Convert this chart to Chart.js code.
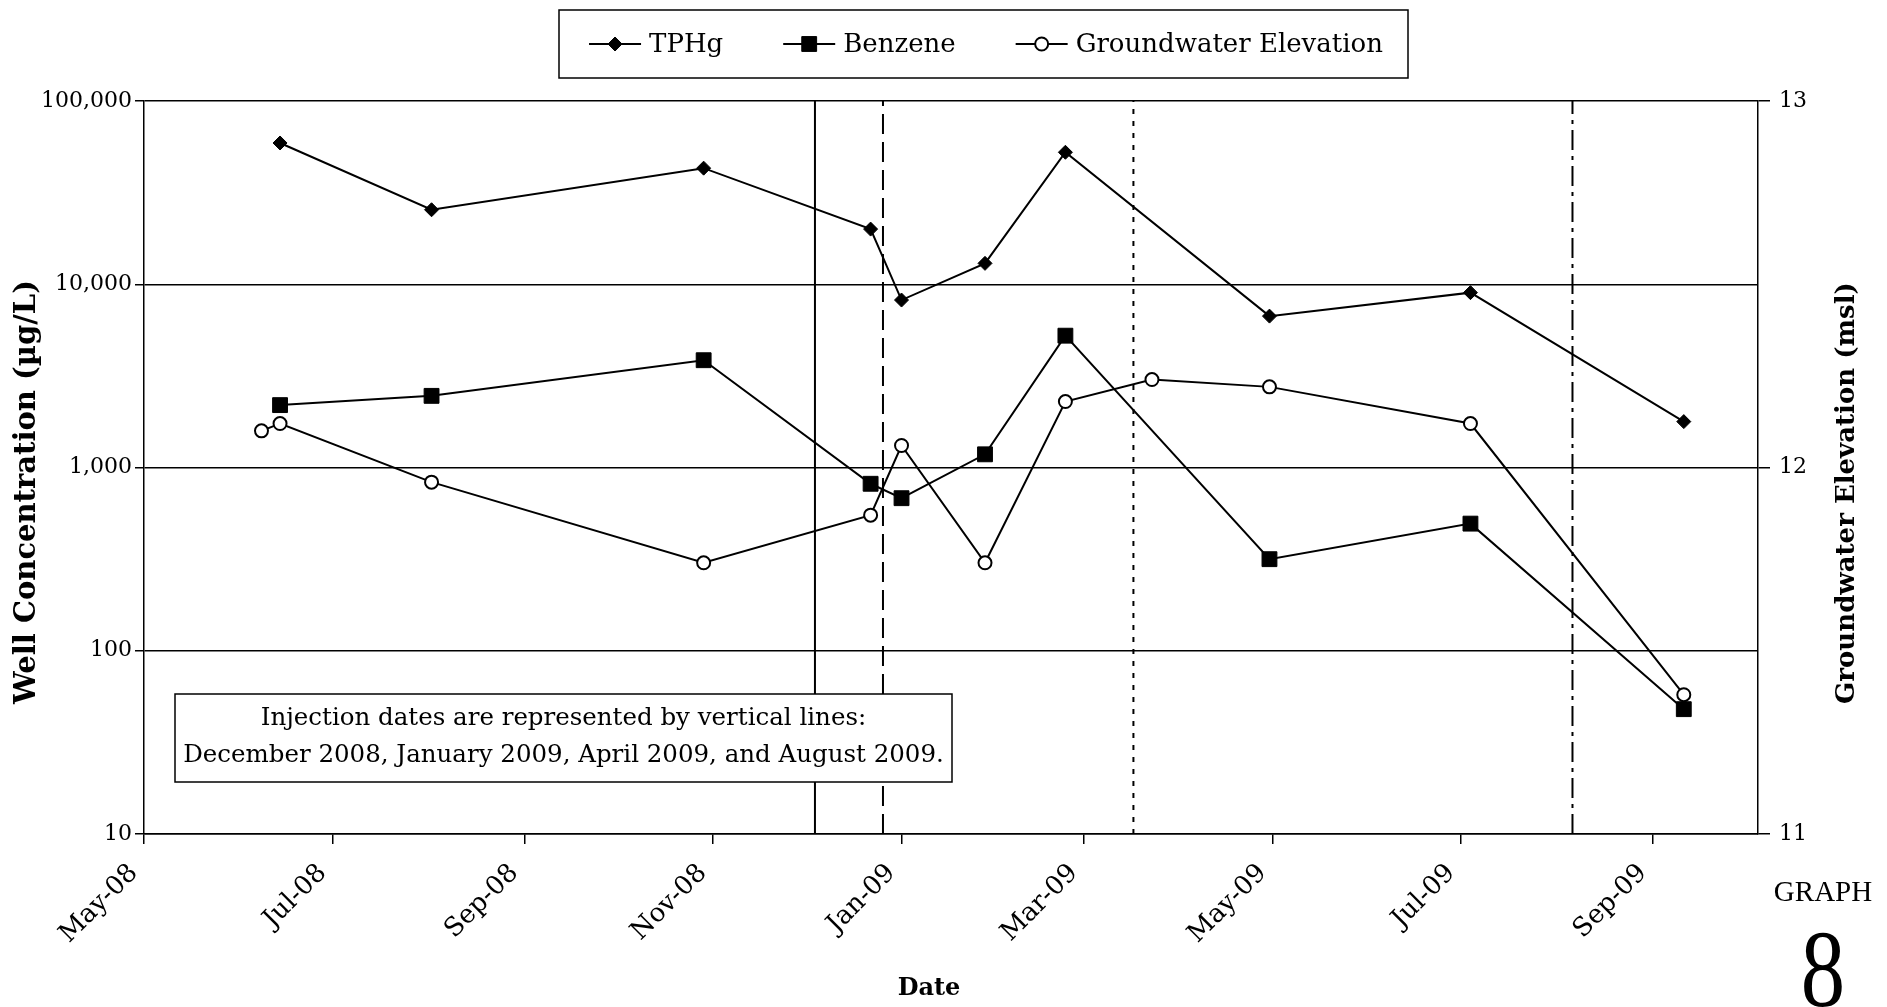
<!DOCTYPE html>
<html>
<head>
<meta charset="utf-8">
<title>Graph 8 - Well Concentration and Groundwater Elevation</title>
<script src="https://cdn.jsdelivr.net/npm/chart.js@4.4.1/dist/chart.umd.min.js"></script>
<style>
  html, body { margin: 0; padding: 0; background: #fff; }
  #wrap { width: 1887px; height: 1007px; }
</style>
</head>
<body>
<div id="wrap"><canvas id="chart" width="1887" height="1007"></canvas></div>
<script>
// ---- Monitoring data ----
const sampleDates = ['2008-06-14', '2008-08-02', '2008-10-29', '2008-12-22', '2009-01-01',
                     '2009-01-28', '2009-02-23', '2009-04-30', '2009-07-04', '2009-09-11'];
const tphg    = [59000, 25500, 43000, 20000, 8200, 13000, 52500, 6700, 9000, 1780];   // µg/L
const benzene = [2190, 2460, 3850, 815, 680, 1180, 5240, 316, 494, 48];             // µg/L

const gwDates = ['2008-06-08', '2008-06-14', '2008-08-02', '2008-10-29', '2008-12-22', '2009-01-01',
                 '2009-01-28', '2009-02-23', '2009-03-23', '2009-04-30', '2009-07-04', '2009-09-11'];
const gwElevation = [12.10, 12.12, 11.96, 11.74, 11.87, 12.06, 11.74, 12.18, 12.24, 12.22, 12.12, 11.38]; // ft msl

// Injection events (December 2008, January 2009, April 2009, August 2009)
const injectionDates = ['2008-12-04', '2008-12-26', '2009-03-17', '2009-08-06'];

// Axis ticks and ranges
const dateRange  = ['2008-05-01', '2009-10-05'];
const dateTicks  = ['2008-05-01', '2008-07-01', '2008-09-01', '2008-11-01', '2009-01-01',
                    '2009-03-01', '2009-05-01', '2009-07-01', '2009-09-01'];
const concTicks  = [10, 100, 1000, 10000, 100000];
const elevTicks  = [11, 12, 13];

const seriesNames = ['TPHg', 'Benzene', 'Groundwater Elevation'];
const noteLines = ['Injection dates are represented by vertical lines:',
                   'December 2008, January 2009, April 2009, and August 2009.'];

// ---- helpers ----
const MONTHS = ['Jan','Feb','Mar','Apr','May','Jun','Jul','Aug','Sep','Oct','Nov','Dec'];
const dayNum = s => { const [y, m, d] = s.split('-').map(Number); return Date.UTC(y, m - 1, d) / 86400000; };
const dayLabel = v => { const dt = new Date(v * 86400000); return MONTHS[dt.getUTCMonth()] + '-' + String(dt.getUTCFullYear()).slice(2); };

const FONT = "'DejaVu Serif', 'Liberation Serif', serif";
const INK = '#000';

// dash patterns for the four injection markers: solid, dashed, dotted, dash-dot
const injectionDash = [[], [20, 8], [5, 7], [20, 6, 4, 6]];

const datasets = [
  {
    label: seriesNames[0],
    data: sampleDates.map((d, i) => ({ x: dayNum(d), y: tphg[i] })),
    yAxisID: 'y',
    borderColor: INK, backgroundColor: INK, borderWidth: 2,
    pointStyle: 'rectRot', pointRadius: 7, pointBorderWidth: 1,
    pointBackgroundColor: INK, pointBorderColor: INK,
    tension: 0, order: 0
  },
  {
    label: seriesNames[1],
    data: sampleDates.map((d, i) => ({ x: dayNum(d), y: benzene[i] })),
    yAxisID: 'y',
    borderColor: INK, backgroundColor: INK, borderWidth: 2,
    pointStyle: 'rect', pointRadius: 10.5, pointBorderWidth: 1,
    pointBackgroundColor: INK, pointBorderColor: INK,
    tension: 0, order: 0
  },
  {
    label: seriesNames[2],
    data: gwDates.map((d, i) => ({ x: dayNum(d), y: gwElevation[i] })),
    yAxisID: 'y2',
    borderColor: INK, backgroundColor: '#fff', borderWidth: 2,
    pointStyle: 'circle', pointRadius: 6.5, pointBorderWidth: 2,
    pointBackgroundColor: '#fff', pointBorderColor: INK,
    tension: 0, order: 0
  }
].concat(injectionDates.map((d, i) => ({
  label: 'injection-' + i,
  data: [{ x: dayNum(d), y: concTicks[0] }, { x: dayNum(d), y: concTicks[concTicks.length - 1] }],
  yAxisID: 'y',
  borderColor: INK, borderWidth: 2, borderDash: injectionDash[i],
  pointRadius: 0, fill: false, order: 5
})));

// ---- extra decorations: legend box, note box, axis titles, graph number ----
const decorations = {
  id: 'decorations',
  beforeDraw(chart) {
    const ctx = chart.ctx;
    ctx.save();
    ctx.fillStyle = '#fff';
    ctx.fillRect(0, 0, chart.width, chart.height);
    ctx.restore();
  },
  afterDatasetsDraw(chart) {
    const ctx = chart.ctx;
    ctx.save();
    // note box
    const bx = 175, by = 694, bw = 777, bh = 88;
    ctx.fillStyle = '#fff';
    ctx.fillRect(bx, by, bw, bh);
    ctx.strokeStyle = INK; ctx.lineWidth = 1.5;
    ctx.strokeRect(bx, by, bw, bh);
    ctx.fillStyle = INK;
    ctx.font = '24.5px ' + FONT;
    ctx.textAlign = 'center'; ctx.textBaseline = 'middle';
    ctx.fillText(noteLines[0], bx + bw / 2, 719);
    ctx.fillText(noteLines[1], bx + bw / 2, 756);
    ctx.restore();
  },
  afterDraw(chart) {
    const ctx = chart.ctx;
    ctx.save();
    ctx.fillStyle = INK; ctx.strokeStyle = INK;

    // legend
    const lx = 559, ly = 10, lw = 849, lh = 68;
    ctx.fillStyle = '#fff';
    ctx.fillRect(lx, ly, lw, lh);
    ctx.lineWidth = 1.5; ctx.strokeStyle = INK;
    ctx.strokeRect(lx, ly, lw, lh);
    ctx.font = '26px ' + FONT;
    ctx.textBaseline = 'middle'; ctx.textAlign = 'left';
    const sampleW = 52, textGap = 8, itemGap = 60, cy = 44;
    const widths = seriesNames.map(n => ctx.measureText(n).width);
    const total = widths.reduce((a, w) => a + sampleW + textGap + w, 0) + itemGap * (seriesNames.length - 1);
    let x = 986 - total / 2;
    seriesNames.forEach((name, i) => {
      const ds = chart.data.datasets[i];
      ctx.strokeStyle = INK; ctx.lineWidth = 2; ctx.setLineDash([]);
      ctx.beginPath(); ctx.moveTo(x, cy); ctx.lineTo(x + sampleW, cy); ctx.stroke();
      ctx.fillStyle = ds.pointBackgroundColor;
      ctx.strokeStyle = ds.pointBorderColor;
      ctx.lineWidth = ds.pointBorderWidth;
      Chart.helpers.drawPoint(ctx, { pointStyle: ds.pointStyle, radius: ds.pointRadius, rotation: 0, borderWidth: ds.pointBorderWidth }, x + sampleW / 2, cy);
      ctx.fillStyle = INK;
      ctx.fillText(name, x + sampleW + textGap, cy + 1);
      x += sampleW + textGap + widths[i] + itemGap;
    });

    // axis titles
    ctx.fillStyle = INK;
    ctx.textAlign = 'center'; ctx.textBaseline = 'middle';
    ctx.font = 'bold 29px ' + FONT;
    ctx.save();
    ctx.translate(27, 492); ctx.rotate(-Math.PI / 2);
    ctx.fillText('Well Concentration (µg/L)', 0, 0);
    ctx.restore();
    ctx.font = 'bold 26px ' + FONT;
    ctx.save();
    ctx.translate(1847, 493); ctx.rotate(-Math.PI / 2);
    ctx.fillText('Groundwater Elevation (msl)', 0, 0);
    ctx.restore();
    ctx.font = 'bold 24px ' + FONT;
    ctx.fillText('Date', 929, 989);

    // graph number
    ctx.font = "29px 'Liberation Serif', serif";
    ctx.fillText('GRAPH', 1823, 893);
    ctx.save();
    ctx.font = "111px 'Liberation Serif', serif";
    ctx.textBaseline = 'alphabetic';
    ctx.translate(1823, 1006); ctx.scale(0.8, 1);
    ctx.fillText('8', 0, 0);
    ctx.restore();

    ctx.restore();
  }
};

const gridCommon = { color: INK, lineWidth: 1.5, tickColor: INK, tickWidth: 1.5 };

new Chart(document.getElementById('chart'), {
  type: 'line',
  data: { datasets },
  options: {
    responsive: false,
    animation: false,
    layout: { padding: { top: 101, left: 0, right: 0, bottom: 0 } },
    plugins: { legend: { display: false }, tooltip: { enabled: false }, title: { display: false } },
    scales: {
      x: {
        type: 'linear', position: 'bottom',
        min: dayNum(dateRange[0]), max: dayNum(dateRange[1]),
        afterBuildTicks: s => { s.ticks = dateTicks.map(d => ({ value: dayNum(d) })); },
        afterFit: s => { s.height = 173; },
        grid: Object.assign({}, gridCommon, { drawOnChartArea: false, drawTicks: true, tickLength: 10 }),
        border: { display: true, color: INK, width: 1.5 },
        ticks: {
          autoSkip: false, minRotation: 45, maxRotation: 45, padding: 14, labelOffset: -10,
          color: INK, font: { family: FONT, size: 26 },
          callback: v => dayLabel(v)
        }
      },
      y: {
        type: 'logarithmic', position: 'left',
        min: concTicks[0], max: concTicks[concTicks.length - 1],
        afterBuildTicks: s => { s.ticks = concTicks.map(v => ({ value: v, major: true })); },
        afterFit: s => { s.width = 144; },
        grid: Object.assign({}, gridCommon, { drawOnChartArea: true, drawTicks: true, tickLength: 9 }),
        border: { display: true, color: INK, width: 1.5 },
        ticks: {
          padding: 3, color: INK, font: { family: FONT, size: 22 },
          callback: v => Number(v).toLocaleString('en-US')
        }
      },
      y2: {
        type: 'linear', position: 'right',
        min: elevTicks[0], max: elevTicks[elevTicks.length - 1],
        afterBuildTicks: s => { s.ticks = elevTicks.map(v => ({ value: v })); },
        afterFit: s => { s.width = 129; },
        grid: Object.assign({}, gridCommon, { drawOnChartArea: false, drawTicks: true, tickLength: 12 }),
        border: { display: true, color: INK, width: 1.5 },
        ticks: { padding: 9, color: INK, font: { family: FONT, size: 22 }, callback: v => String(v) }
      }
    }
  },
  plugins: [decorations]
});
</script>
</body>
</html>
